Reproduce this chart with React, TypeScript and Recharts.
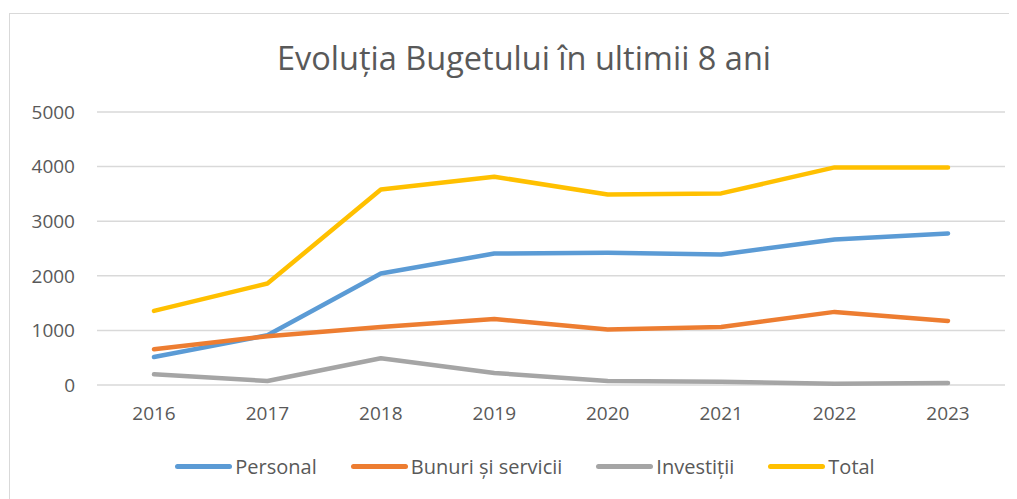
import { LineChart, Line, XAxis, YAxis, CartesianGrid, Legend } from "recharts";

const years = ["2016", "2017", "2018", "2019", "2020", "2021", "2022", "2023"];
const personal = [513, 911, 2042, 2408, 2420, 2390, 2665, 2775];
const bunuri = [654, 892, 1064, 1210, 1015, 1064, 1339, 1174];
const investitii = [196, 73, 489, 220, 73, 61, 24, 37];
const total = [1357, 1858, 3582, 3814, 3490, 3509, 3985, 3985];
const yTicks = [0, 1000, 2000, 3000, 4000, 5000];

const series = [
  { key: "personal", name: "Personal", color: "#5B9BD5" },
  { key: "bunuri", name: "Bunuri și servicii", color: "#ED7D31" },
  { key: "investitii", name: "Investiții", color: "#A5A5A5" },
  { key: "total", name: "Total", color: "#FFC000" },
];

const data = years.map((year, i) => ({
  year,
  personal: personal[i],
  bunuri: bunuri[i],
  investitii: investitii[i],
  total: total[i],
}));

const FONT = "'Open Sans', sans-serif";
const TEXT = "#595959";

function LegendContent() {
  return (
    <div
      style={{
        display: "flex",
        justifyContent: "center",
        gap: 34,
        fontFamily: FONT,
        fontSize: 20,
        color: TEXT,
      }}
    >
      {series.map((s) => (
        <div key={s.key} style={{ display: "flex", alignItems: "center" }}>
          <span
            style={{
              display: "inline-block",
              width: 57,
              height: 5,
              borderRadius: 3,
              background: s.color,
              marginRight: 3,
            }}
          />
          <span>{s.name}</span>
        </div>
      ))}
    </div>
  );
}

export default function App() {
  return (
    <div
      style={{
        position: "relative",
        marginTop: 5,
        marginLeft: 1,
        width: 1010,
        height: 500,
        border: "1px solid #d9d9d9",
        background: "#fff",
      }}
    >
      <div
        style={{
          position: "absolute",
          top: 21,
          left: 11,
          width: 1006,
          textAlign: "center",
          fontFamily: FONT,
          fontSize: 32.5,
          color: TEXT,
        }}
      >
        Evoluția Bugetului în ultimii 8 ani
      </div>
      <LineChart
        width={1006}
        height={484}
        data={data}
        margin={{ top: 98, right: 11, bottom: 83, left: 0 }}
      >
        <CartesianGrid vertical={false} stroke="#d9d9d9" strokeWidth={1.5} />
        <XAxis
          dataKey="year"
          axisLine={false}
          tickLine={false}
          height={30}
          tickMargin={16}
          padding={{ left: 57, right: 57 }}
          tick={{ fill: TEXT, fontSize: 19, fontFamily: FONT }}
        />
        <YAxis
          width={87}
          domain={[0, 5000]}
          ticks={yTicks}
          axisLine={false}
          tickLine={false}
          tickMargin={16}
          tick={{ fill: TEXT, fontSize: 19, fontFamily: FONT }}
        />
        <Legend
          verticalAlign="middle"
          content={<LegendContent />}
          wrapperStyle={{ top: 439, left: 12, width: 1006 }}
        />
        {series.map((s) => (
          <Line
            key={s.key}
            type="linear"
            dataKey={s.key}
            name={s.name}
            stroke={s.color}
            strokeWidth={4.5}
            strokeLinecap="round"
            strokeLinejoin="round"
            dot={false}
            isAnimationActive={false}
          />
        ))}
      </LineChart>
    </div>
  );
}
